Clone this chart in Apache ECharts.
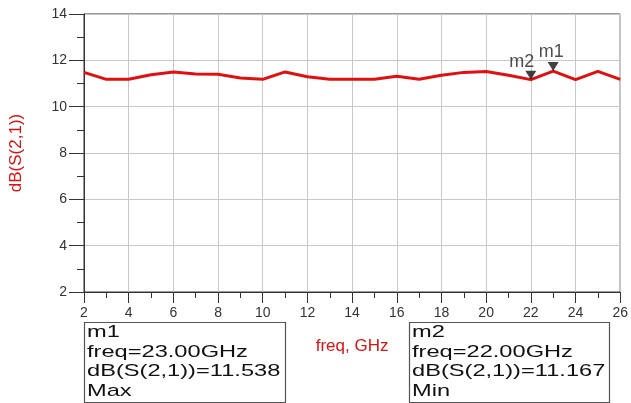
<!DOCTYPE html>
<html>
<head>
<meta charset="utf-8">
<script src="https://cdn.jsdelivr.net/npm/echarts@6/dist/echarts.min.js"></script>
<style>html,body{margin:0;padding:0;background:#fff;}#c{width:631px;height:403px;}</style>
</head>
<body>
<div id="c"></div>
<script>
// Data
const freq = [2,3,4,5,6,7,8,9,10,11,12,13,14,15,16,17,18,19,20,21,22,23,24,25,26];
const dbS21 = [11.48,11.18,11.18,11.38,11.50,11.41,11.40,11.24,11.18,11.50,11.29,11.18,11.18,11.18,11.31,11.18,11.36,11.48,11.52,11.36,11.167,11.538,11.17,11.52,11.18];
const markerNames = ['m1','m2'];
const markerFreq = [23, 22];
const markerVal = [11.538, 11.167];
const markerKind = ['Max','Min'];
const xTicks = [2,4,6,8,10,12,14,16,18,20,22,24,26];
const yTicks = [2,4,6,8,10,12,14];

const chart = echarts.init(document.getElementById('c'), null, {renderer:'canvas'});
const FONT = '"Liberation Sans", Arial, sans-serif';
const lineData = freq.map((f,i)=>[f, dbS21[i]]);
const xMin = xTicks[0], xMax = xTicks[xTicks.length-1];
const yMin = yTicks[0], yMax = yTicks[yTicks.length-1];

function boxText(i){
  return markerNames[i] + '\nfreq=' + markerFreq[i].toFixed(2) + 'GHz\ndB(S(2,1))=' + markerVal[i].toFixed(3) + '\n' + markerKind[i];
}

chart.setOption({
  animation:false,
  backgroundColor:'#fff',
  grid:{left:84,right:7,top:14,bottom:111,show:true,borderColor:'#333',borderWidth:1,backgroundColor:'transparent'},
  xAxis:[{
    type:'value', min:xMin, max:xMax, interval:2,
    name:'freq, GHz', nameLocation:'middle', nameGap:46,
    nameTextStyle:{color:'#dd1111',fontSize:17,fontFamily:FONT},
    axisLine:{show:true,lineStyle:{color:'#333',width:1}},
    axisTick:{show:true,inside:false,length:11,lineStyle:{color:'#333'}},
    axisLabel:{color:'#333',fontSize:14,fontFamily:FONT,margin:14,showMaxLabel:true,showMinLabel:true},
    splitLine:{show:true,lineStyle:{color:'#c8c8c8',width:1}}
  },{
    type:'value', min:xMin, max:xMax, interval:1, position:'bottom',
    axisLine:{show:false}, axisLabel:{show:false}, splitLine:{show:false},
    axisTick:{show:true,length:6,lineStyle:{color:'#333'}}
  }],
  yAxis:[{
    type:'value', min:yMin, max:yMax, interval:2,
    name:'dB(S(2,1))', nameLocation:'middle', nameGap:59, nameRotate:90,
    nameTextStyle:{color:'#dd1111',fontSize:17,fontFamily:FONT},
    axisLine:{show:true,lineStyle:{color:'#333',width:1}},
    axisTick:{show:true,length:15,lineStyle:{color:'#333'}},
    axisLabel:{color:'#333',fontSize:14,fontFamily:FONT,margin:17},
    splitLine:{show:true,lineStyle:{color:'#c8c8c8',width:1}}
  },{
    type:'value', min:yMin, max:yMax, interval:1, position:'left',
    axisLine:{show:false}, axisLabel:{show:false}, splitLine:{show:false},
    axisTick:{show:true,length:7,lineStyle:{color:'#333'}}
  }],
  series:[
    {type:'line',data:lineData,symbol:'none',lineStyle:{color:'#e01010',width:3},z:3},
    {type:'scatter',
     data:markerNames.map((n,i)=>({name:n,value:[markerFreq[i],markerVal[i]],
       label:{offset: i===0?[-2,0]:[-9,1]}})),
     symbol:'triangle',symbolRotate:180,symbolSize:[11,9],symbolOffset:[0,-4.5],
     itemStyle:{color:'#111'},z:5,
     label:{show:true,position:'top',distance:1,formatter:p=>p.name,color:'#222',fontSize:18,fontFamily:FONT}
    }
  ],
  graphic:[
    {type:'rect',shape:{x:84.5,y:322.5,width:201,height:80},style:{fill:'#fff',stroke:'#555',lineWidth:1.2}},
    {type:'text',x:87,y:323,scaleX:1.39,style:{text:boxText(0),font:'17px '+FONT,fill:'#111',lineHeight:19.5}},
    {type:'rect',shape:{x:409.5,y:322.5,width:200,height:80},style:{fill:'#fff',stroke:'#555',lineWidth:1.2}},
    {type:'text',x:412,y:323,scaleX:1.39,style:{text:boxText(1),font:'17px '+FONT,fill:'#111',lineHeight:19.5}}
  ]
});
</script>
</body>
</html>
